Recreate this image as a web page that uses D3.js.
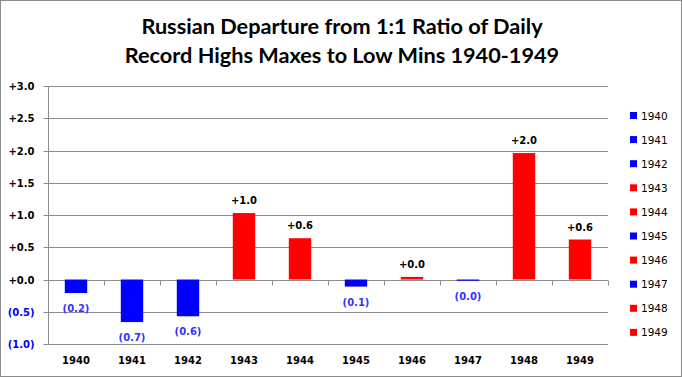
<!DOCTYPE html>
<html><head><meta charset="utf-8">
<script src="https://cdn.jsdelivr.net/npm/d3@7"></script>
<style>body{margin:0;background:#fff}svg{display:block}</style>
</head><body>
<svg id="c" width="682" height="377"></svg>
<script>
const years = ["1940","1941","1942","1943","1944","1945","1946","1947","1948","1949"];
const values = [-0.21,-0.66,-0.57,1.03,0.64,-0.11,0.04,-0.02,1.96,0.62];
const yTicks = [-1.0,-0.5,0,0.5,1.0,1.5,2.0,2.5,3.0];
const titleLines = ["Russian Departure from 1:1 Ratio of Daily","Record Highs Maxes to Low Mins 1940-1949"];

const W=682,H=377;
const svg=d3.select("#c");
const m={l:48,r:608,t:86,b:344};
const x=d3.scaleBand().domain(years).range([m.l,m.r]).paddingInner(0.6).paddingOuter(0.3);
const xb=d3.scaleBand().domain(years).range([m.l,m.r]);
const y=d3.scaleLinear().domain([-1,3]).range([m.b,m.t]);
const BLUE="#0000ff",RED="#ff0000",GRID="#8c8c8c";
const fmt=v=>{const s=Math.abs(v).toFixed(1);return v<0?"("+s+")":"+"+s;};

svg.append("rect").attr("x",0.5).attr("y",0.5).attr("width",W-1).attr("height",H-1).attr("fill","#fff").attr("stroke","#8c8c8c");

// title
svg.append("g").selectAll("text").data(titleLines).join("text")
 .attr("x",342).attr("y",(d,i)=>34+i*29).attr("text-anchor","middle")
 .attr("font-family","Lato, 'Open Sans', sans-serif").attr("font-weight","bold").attr("font-size",21.7)
 .attr("fill","#000").text(d=>d);

// gridlines
svg.append("g").selectAll("line").data(yTicks).join("line")
 .attr("x1",m.l).attr("x2",m.r).attr("y1",d=>Math.round(y(d))+0.5).attr("y2",d=>Math.round(y(d))+0.5)
 .attr("stroke",GRID).attr("stroke-width",1);

// y axis
const ya=svg.append("g").attr("transform",`translate(${m.l+0.5},0)`)
 .call(d3.axisLeft(y).tickValues(yTicks).tickSize(5).tickPadding(9).tickFormat(fmt));
ya.select(".domain").attr("stroke",GRID).attr("d",`M-0,${m.t}V${m.b}`);
ya.selectAll(".tick line").attr("stroke",GRID);
ya.selectAll(".tick").attr("transform",d=>`translate(0,${Math.round(y(d))+0.5})`);
ya.selectAll("text").attr("font-family","'DejaVu Sans', sans-serif").attr("font-weight","bold").attr("font-size",10)
 .attr("fill",d=>d<0?BLUE:"#000").attr("text-anchor","end").attr("x",-14);

// x axis ticks along zero line
const y0=Math.round(y(0))+0.5;
const bounds=years.map(d=>xb(d)).concat([m.r]);
svg.append("g").selectAll("line").data(bounds).join("line")
 .attr("x1",d=>Math.round(d)+0.5).attr("x2",d=>Math.round(d)+0.5).attr("y1",y0).attr("y2",y0+5)
 .attr("stroke",GRID);

// bars
svg.append("g").selectAll("rect").data(years).join("rect")
 .attr("x",d=>x(d)).attr("width",x.bandwidth())
 .attr("y",(d,i)=>y(Math.max(0,values[i]))).attr("height",(d,i)=>Math.abs(y(values[i])-y(0)))
 .attr("fill",(d,i)=>values[i]<0?BLUE:RED);

// data labels
svg.append("g").selectAll("text").data(years).join("text")
 .attr("x",d=>x(d)+x.bandwidth()/2)
 .attr("y",(d,i)=>values[i]<0?y(values[i])+19:y(values[i])-9)
 .attr("text-anchor","middle").attr("font-family","'DejaVu Sans', sans-serif").attr("font-weight","bold").attr("font-size",10)
 .attr("fill",(d,i)=>values[i]<0?"#3333ff":"#000").text((d,i)=>fmt(values[i]));

// category labels
svg.append("g").selectAll("text").data(years).join("text")
 .attr("x",d=>xb(d)+xb.bandwidth()/2).attr("y",364).attr("text-anchor","middle")
 .attr("font-family","'DejaVu Sans', sans-serif").attr("font-weight","bold").attr("font-size",10)
 .attr("fill","#000").text(d=>d);

// legend
const lg=svg.append("g").selectAll("g").data(years).join("g")
 .attr("transform",(d,i)=>`translate(630,${112+i*24.1})`);
lg.append("rect").attr("width",7).attr("height",7).attr("fill",(d,i)=>values[i]<0?BLUE:RED);
lg.append("text").attr("x",11).attr("y",7.5).attr("font-family","'DejaVu Sans', sans-serif").attr("font-size",10.5)
 .attr("fill","#000").text(d=>d);
</script>
</body></html>
